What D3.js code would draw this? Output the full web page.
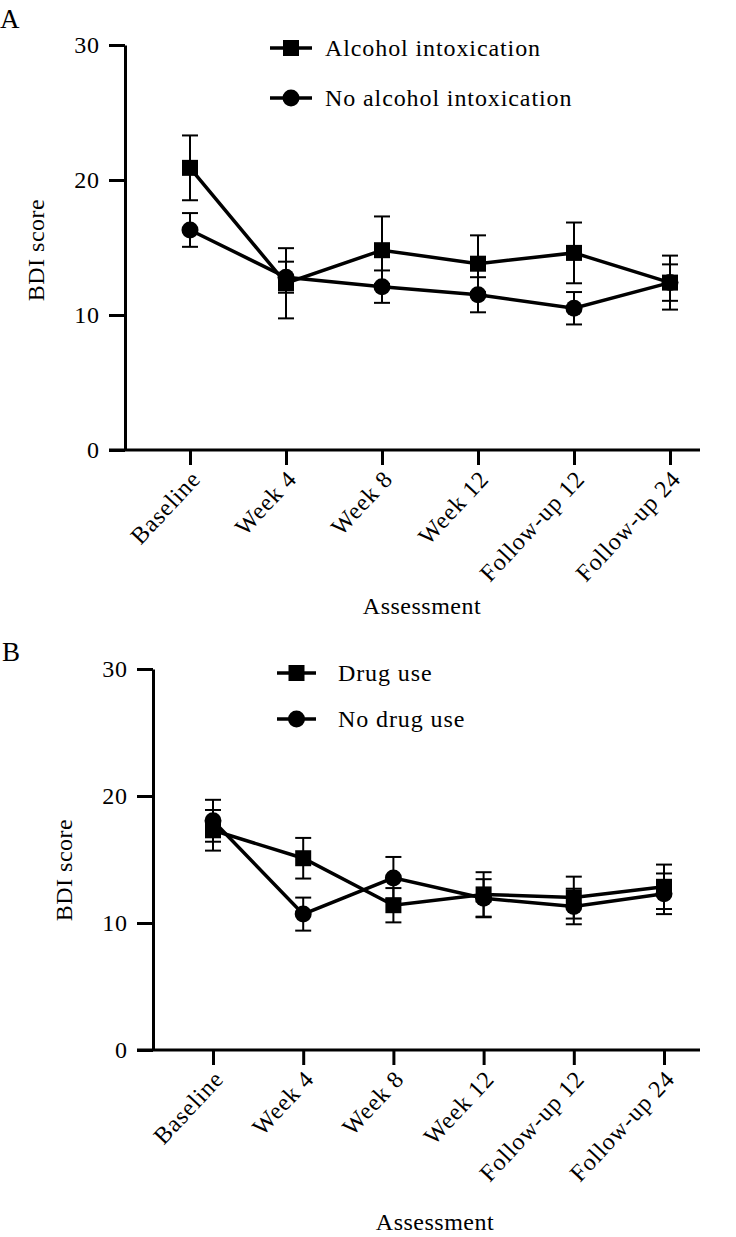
<!DOCTYPE html>
<html>
<head>
<meta charset="utf-8">
<script src="https://cdn.jsdelivr.net/npm/d3@7"></script>
<style>
  html, body { margin: 0; padding: 0; background: #fff; }
  svg { display: block; }
  svg text { font-family: "Liberation Serif", "Times New Roman", "DejaVu Serif", serif; }
</style>
</head>
<body>
<svg id="chart" width="736" height="1237"></svg>
<script>
const categories = ["Baseline", "Week 4", "Week 8", "Week 12", "Follow-up 12", "Follow-up 24"];
const yTicks = [0, 10, 20, 30];

const alcoholMean = [20.9, 12.35, 14.8, 13.8, 14.6, 12.4];
const alcoholErr = [2.4, 2.6, 2.5, 2.1, 2.25, 2.0];
const noAlcoholMean = [16.3, 12.8, 12.1, 11.5, 10.5, 12.4];
const noAlcoholErr = [1.25, 1.15, 1.2, 1.3, 1.2, 1.35];

const drugMean = [17.3, 15.1, 11.4, 12.25, 12.0, 12.85];
const drugErr = [1.6, 1.6, 1.35, 1.75, 1.65, 1.75];
const noDrugMean = [18.05, 10.7, 13.55, 11.95, 11.3, 12.3];
const noDrugErr = [1.65, 1.3, 1.65, 1.5, 1.4, 1.6];

const legendA = ["Alcohol intoxication", "No alcohol intoxication"];
const legendB = ["Drug use", "No drug use"];

const svg = d3.select("#chart");
const FS = 24;
const LS = 0.9;
const FONT = "Liberation Serif, Times New Roman, DejaVu Serif, serif";

function panel(cfg) {
  const g = svg.append("g").attr("font-family", FONT).attr("letter-spacing", LS);
  const y = d3.scaleLinear().domain([0, 30]).range([cfg.y0, cfg.y30]);
  const x = d3.scalePoint().domain(categories).range([cfg.xFirst, cfg.xLast]);

  // y axis
  const ya = g.append("g").attr("transform", `translate(${cfg.axisX},0)`)
    .call(d3.axisLeft(y).tickValues(yTicks).tickSize(16).tickSizeOuter(0).tickPadding(9));
  ya.attr("font-family", FONT).attr("font-size", FS);
  ya.select(".domain").attr("stroke", "#000").attr("stroke-width", 3);
  ya.selectAll(".tick line").attr("stroke", "#000").attr("stroke-width", 3);
  ya.selectAll(".tick text").attr("fill", "#000");

  // x axis
  const xa = g.append("g").attr("transform", `translate(0,${cfg.y0})`)
    .call(d3.axisBottom(x).tickSize(15).tickSizeOuter(0));
  xa.select(".domain").remove();
  xa.selectAll(".tick line").attr("stroke", "#000").attr("stroke-width", 3);
  xa.selectAll(".tick text").remove();
  g.append("line")
    .attr("x1", cfg.axisX - 16).attr("x2", cfg.axisEnd)
    .attr("y1", cfg.y0).attr("y2", cfg.y0)
    .attr("stroke", "#000").attr("stroke-width", 3);

  // rotated x labels
  g.selectAll("text.xl").data(categories).join("text")
    .attr("class", "xl")
    .attr("text-anchor", "end")
    .attr("font-size", FS)
    .attr("transform", d => `translate(${x(d) + 12},${cfg.y0 + 30}) rotate(-47)`)
    .text(d => d);

  // titles
  g.append("text").attr("x", cfg.xTitleX).attr("y", cfg.xTitleY)
    .attr("text-anchor", "middle").attr("font-size", FS).attr("letter-spacing", 0.5).text("Assessment");
  g.append("text").attr("transform", `translate(${cfg.yTitleX},${cfg.yTitleY}) rotate(-90)`)
    .attr("text-anchor", "middle").attr("font-size", FS).attr("letter-spacing", 0.5).text("BDI score");
  g.append("text").attr("x", cfg.labX).attr("y", cfg.labY)
    .attr("font-size", 27).text(cfg.label);

  const series = [
    { mean: cfg.m1, err: cfg.e1, shape: "square" },
    { mean: cfg.m2, err: cfg.e2, shape: "circle" }
  ];
  const line = d3.line().x((d, i) => x(categories[i])).y(d => y(d));

  series.forEach(s => {
    g.append("path").datum(s.mean).attr("d", line)
      .attr("fill", "none").attr("stroke", "#000").attr("stroke-width", 3.5)
      .attr("stroke-linejoin", "miter");
  });
  series.forEach(s => {
    const eg = g.append("g");
    s.mean.forEach((m, i) => {
      const cx = x(categories[i]);
      const top = y(m + s.err[i]), bot = y(m - s.err[i]);
      eg.append("line").attr("x1", cx).attr("x2", cx).attr("y1", top).attr("y2", bot)
        .attr("stroke", "#000").attr("stroke-width", 2);
      [top, bot].forEach(yy => eg.append("line")
        .attr("x1", cx - 8).attr("x2", cx + 8).attr("y1", yy).attr("y2", yy)
        .attr("stroke", "#000").attr("stroke-width", 2));
    });
  });
  series.forEach(s => {
    s.mean.forEach((m, i) => {
      const cx = x(categories[i]), cy = y(m);
      if (s.shape === "square") {
        g.append("rect").attr("x", cx - 8).attr("y", cy - 8).attr("width", 16).attr("height", 16).attr("fill", "#000");
      } else {
        g.append("circle").attr("cx", cx).attr("cy", cy).attr("r", 8.5).attr("fill", "#000");
      }
    });
  });

  // legend
  cfg.legend.forEach((name, i) => {
    const ly = cfg.legY[i];
    g.append("line").attr("x1", cfg.legX1).attr("x2", cfg.legX2).attr("y1", ly).attr("y2", ly)
      .attr("stroke", "#000").attr("stroke-width", 3.5);
    const mx = (cfg.legX1 + cfg.legX2) / 2;
    if (i === 0) g.append("rect").attr("x", mx - 8).attr("y", ly - 8).attr("width", 16).attr("height", 16).attr("fill", "#000");
    else g.append("circle").attr("cx", mx).attr("cy", ly).attr("r", 8.5).attr("fill", "#000");
    g.append("text").attr("x", cfg.legTX).attr("y", ly).attr("dy", "0.35em")
      .attr("font-size", FS).text(name);
  });
}

panel({
  label: "A", labX: 0, labY: 28,
  axisX: 125, axisEnd: 700, y0: 450, y30: 45, xFirst: 190, xLast: 670,
  xTitleX: 422, xTitleY: 614, yTitleX: 44, yTitleY: 250,
  m1: alcoholMean, e1: alcoholErr, m2: noAlcoholMean, e2: noAlcoholErr,
  legend: legendA, legY: [48, 98], legX1: 270, legX2: 312, legTX: 325
});

panel({
  label: "B", labX: 2, labY: 661,
  axisX: 153, axisEnd: 700, y0: 1050, y30: 669, xFirst: 213, xLast: 664,
  xTitleX: 435, xTitleY: 1230, yTitleX: 72, yTitleY: 870,
  m1: drugMean, e1: drugErr, m2: noDrugMean, e2: noDrugErr,
  legend: legendB, legY: [673, 719], legX1: 277, legX2: 316, legTX: 338
});
</script>
</body>
</html>
